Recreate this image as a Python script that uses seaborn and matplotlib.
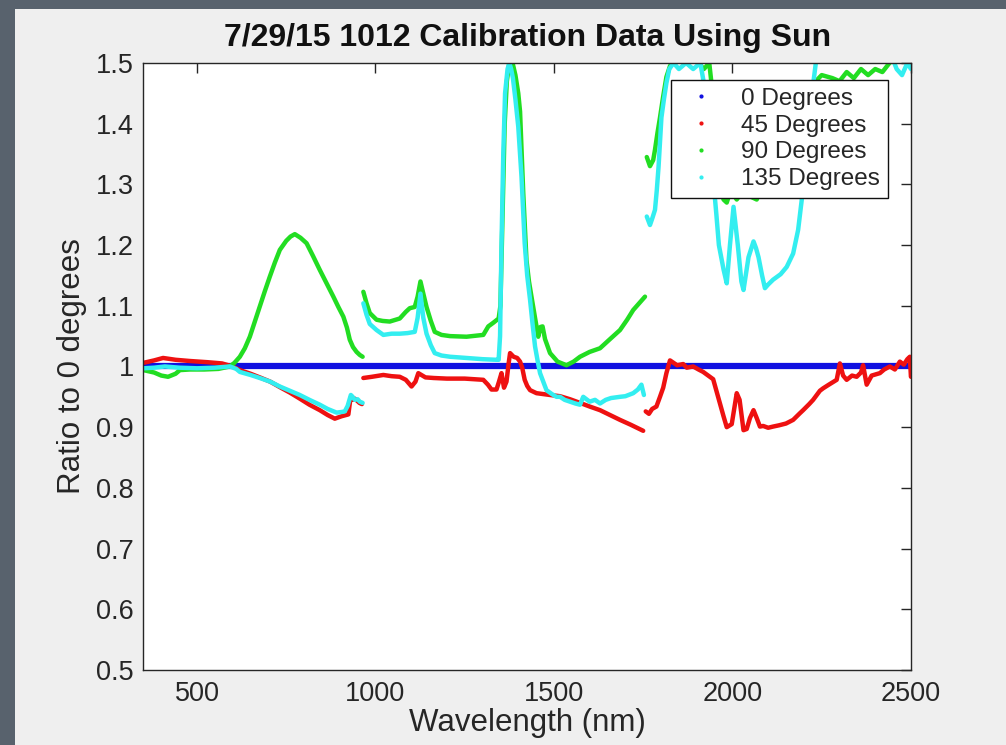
import matplotlib

matplotlib.use("Agg")
import matplotlib.pyplot as plt
import numpy as np
import pandas as pd
import seaborn as sns
from matplotlib.lines import Line2D
from matplotlib.patches import Rectangle

nan = np.nan

# 0 degrees is the reference, ratio 1 everywhere
WL_0 = [350, 960, 965, 1750, 1760, 2500]
R_0 = [1.0, 1.0, 1.0, 1.0, 1.0, 1.0]

# 45 degrees (three detector segments separated by nan)
WL_45 = [
    350, 380, 405, 440, 480, 530, 570, 600, 620, 650, 676, 705, 732, 760, 788, 815,
    844, 866, 886, 905, 924, 930, 936, 942, 955, 962, nan,
    966, 990, 1022, 1045, 1068, 1085, 1101, 1112, 1120, 1140, 1163, 1200, 1250, 1302,
    1315, 1325, 1339, 1346, 1353, 1360, 1367, 1373, 1377, 1387, 1397, 1405, 1411, 1418,
    1425, 1433, 1451, 1489, 1517, 1545, 1573, 1600, 1629, 1657, 1685, 1715, 1750, nan,
    1757, 1766, 1775, 1787, 1797, 1806, 1815, 1825, 1835, 1845, 1862, 1872, 1890, 1905,
    1918, 1932, 1946, 1955, 1965, 1975, 1984, 1998, 2012, 2020, 2031, 2040, 2049, 2059,
    2068, 2077, 2086, 2100, 2114, 2130, 2150, 2170, 2189, 2198, 2215, 2226, 2245, 2254,
    2270, 2292, 2301, 2310, 2320, 2335, 2348, 2360, 2366, 2376, 2390, 2413, 2425, 2441,
    2455, 2469, 2480, 2490, 2497, 2500,
]
R_45 = [
    1.006, 1.010, 1.014, 1.011, 1.009, 1.007, 1.005, 1.000, 0.994, 0.988, 0.982, 0.975,
    0.966, 0.957, 0.947, 0.937, 0.928, 0.920, 0.914, 0.918, 0.921, 0.948, 0.945, 0.947,
    0.940, 0.938, nan,
    0.981, 0.983, 0.986, 0.984, 0.983, 0.978, 0.967, 0.975, 0.989, 0.982, 0.981, 0.980,
    0.980, 0.978, 0.970, 0.962, 0.962, 0.975, 0.989, 0.965, 0.975, 1.005, 1.022, 1.016,
    1.014, 1.008, 0.998, 0.978, 0.968, 0.961, 0.956, 0.953, 0.951, 0.946, 0.940, 0.934,
    0.928, 0.920, 0.912, 0.904, 0.894, nan,
    0.926, 0.922, 0.930, 0.934, 0.950, 0.965, 0.989, 1.010, 1.006, 1.002, 1.004, 0.998,
    1.000, 0.995, 0.991, 0.985, 0.979, 0.960, 0.939, 0.918, 0.900, 0.905, 0.956, 0.945,
    0.895, 0.897, 0.915, 0.928, 0.915, 0.901, 0.902, 0.899, 0.901, 0.903, 0.906, 0.912,
    0.923, 0.928, 0.938, 0.945, 0.960, 0.964, 0.970, 0.978, 1.005, 0.985, 0.978, 0.985,
    0.983, 0.990, 1.002, 0.970, 0.985, 0.989, 0.995, 1.000, 0.995, 1.008, 1.003, 1.012,
    1.016, 0.983,
]

# 90 degrees
WL_90 = [
    350, 380, 400, 419, 440, 452, 480, 520, 560, 592, 605, 620, 634, 648, 662, 676, 690,
    704, 718, 732, 750, 762, 774, 790, 807, 825, 844, 863, 882, 896, 910, 920, 928, 937,
    947, 956, 964, nan,
    966, 975, 984, 1003, 1020, 1040, 1068, 1085, 1096, 1110, 1118, 1126, 1134, 1143,
    1155, 1166, 1185, 1209, 1255, 1302, 1316, 1330, 1345, 1350, 1356, 1362, 1368, 1375,
    1384, 1392, 1400, 1405, 1414, 1423, 1430, 1437, 1447, 1456, 1462, 1468, 1475, 1489,
    1510, 1535, 1555, 1573, 1600, 1629, 1655, 1685, 1705, 1722, 1740, 1755, nan,
    1760, 1769, 1778, 1783, 1790, 1797, 1806, 1815, 1825, 1834, 1850, 1870, 1890, 1905,
    1920, 1935, 1950, 1965, 1975, 1984, 1995, 2012, 2030, 2050, 2068, 2085, 2100, 2150,
    2200, 2250, 2280, 2300, 2320, 2340, 2360, 2380, 2400, 2420, 2440, 2460, 2480, 2500,
]
R_90 = [
    0.994, 0.990, 0.985, 0.983, 0.988, 0.994, 0.995, 0.995, 0.996, 1.000, 1.006, 1.016,
    1.030, 1.049, 1.074, 1.099, 1.124, 1.148, 1.171, 1.192, 1.207, 1.214, 1.218, 1.212,
    1.203, 1.182, 1.159, 1.137, 1.115, 1.098, 1.082, 1.064, 1.044, 1.032, 1.024, 1.019,
    1.016, nan,
    1.123, 1.104, 1.088, 1.077, 1.075, 1.074, 1.079, 1.090, 1.096, 1.098, 1.115, 1.140,
    1.120, 1.098, 1.075, 1.057, 1.052, 1.050, 1.049, 1.052, 1.066, 1.072, 1.079, 1.100,
    1.250, 1.400, 1.470, 1.500, 1.500, 1.480, 1.450, 1.420, 1.285, 1.175, 1.140, 1.115,
    1.080, 1.049, 1.065, 1.066, 1.045, 1.022, 1.008, 1.002, 1.008, 1.016, 1.024, 1.030,
    1.044, 1.060, 1.077, 1.093, 1.105, 1.115, nan,
    1.345, 1.330, 1.340, 1.357, 1.385, 1.410, 1.445, 1.477, 1.495, 1.502, 1.510, 1.520,
    1.510, 1.500, 1.490, 1.500, 1.420, 1.300, 1.275, 1.270, 1.290, 1.275, 1.290, 1.280,
    1.275, 1.300, 1.330, 1.400, 1.450, 1.480, 1.475, 1.470, 1.485, 1.475, 1.490, 1.480,
    1.490, 1.485, 1.500, 1.510, 1.520, 1.520,
]

# 135 degrees
WL_135 = [
    350, 380, 410, 450, 500, 550, 592, 610, 620, 650, 676, 705, 732, 760, 788, 815, 844,
    866, 891, 905, 914, 922, 931, 936, 942, 950, 956, 964, nan,
    966, 975, 984, 1003, 1022, 1045, 1068, 1090, 1110, 1118, 1126, 1134, 1143, 1155,
    1166, 1185, 1209, 1255, 1300, 1339, 1345, 1349, 1353, 1358, 1363, 1370, 1375, 1380,
    1385, 1392, 1400, 1409, 1418, 1425, 1433, 1440, 1447, 1454, 1461, 1470, 1479, 1493,
    1507, 1517, 1530, 1545, 1560, 1573, 1582, 1600, 1615, 1629, 1645, 1660, 1685, 1700,
    1722, 1735, 1745, 1752, nan,
    1760, 1769, 1776, 1783, 1788, 1793, 1801, 1808, 1815, 1823, 1835, 1850, 1870, 1890,
    1910, 1925, 1940, 1955, 1962, 1975, 1984, 1993, 2003, 2015, 2025, 2031, 2045, 2059,
    2066, 2073, 2083, 2091, 2100, 2114, 2135, 2152, 2170, 2184, 2194, 2205, 2225, 2240,
    2400, 2440, 2460, 2475, 2490, 2500,
]
R_135 = [
    0.997, 0.998, 1.000, 0.998, 0.997, 0.998, 1.000, 0.996, 0.991, 0.986, 0.981, 0.975,
    0.967, 0.960, 0.953, 0.945, 0.937, 0.930, 0.924, 0.925, 0.926, 0.935, 0.953, 0.950,
    0.945, 0.946, 0.942, 0.940, nan,
    1.104, 1.085, 1.070, 1.060, 1.052, 1.054, 1.054, 1.055, 1.057, 1.080, 1.120, 1.080,
    1.054, 1.035, 1.022, 1.018, 1.016, 1.014, 1.012, 1.011, 1.011, 1.050, 1.200, 1.350,
    1.450, 1.490, 1.500, 1.490, 1.475, 1.440, 1.395, 1.313, 1.203, 1.150, 1.110, 1.070,
    1.033, 1.010, 0.989, 0.975, 0.961, 0.955, 0.950, 0.950, 0.945, 0.942, 0.939, 0.937,
    0.950, 0.942, 0.945, 0.939, 0.945, 0.948, 0.950, 0.951, 0.956, 0.962, 0.970, 0.953,
    nan,
    1.247, 1.233, 1.245, 1.258, 1.290, 1.329, 1.410, 1.440, 1.467, 1.490, 1.500, 1.490,
    1.500, 1.490, 1.500, 1.450, 1.350, 1.250, 1.200, 1.160, 1.137, 1.200, 1.263, 1.200,
    1.140, 1.126, 1.180, 1.206, 1.195, 1.180, 1.150, 1.129, 1.135, 1.143, 1.152, 1.164,
    1.186, 1.225, 1.274, 1.350, 1.460, 1.530, 1.530, 1.520, 1.490, 1.480, 1.500, 1.490,
]

SERIES = ["0 Degrees", "45 Degrees", "90 Degrees", "135 Degrees"]
COLORS = ["#1010e0", "#ee1111", "#22dd22", "#33eef0"]
X_TICKS = [500, 1000, 1500, 2000, 2500]
Y_TICKS = [0.5, 0.6, 0.7, 0.8, 0.9, 1.0, 1.1, 1.2, 1.3, 1.4, 1.5]
Y_TICK_LABELS = ["0.5", "0.6", "0.7", "0.8", "0.9", "1", "1.1", "1.2", "1.3", "1.4", "1.5"]


def build_frame(name, wl, ratio):
    df = pd.DataFrame({"wavelength": wl, "ratio": ratio})
    df["segment"] = df["ratio"].isna().cumsum()
    df = df.dropna()
    df["series"] = name
    return df


def main():
    sns.set_theme(style="white")
    plt.rcParams["font.family"] = ["Liberation Sans", "DejaVu Sans"]

    fig = plt.figure(figsize=(10.06, 7.45), dpi=100, facecolor="#58626d")
    fig.patches.append(
        Rectangle((15 / 1006, 0), 1, 1 - 9 / 745, transform=fig.transFigure,
                  facecolor="#efefef", edgecolor="none", zorder=-10)
    )
    ax = fig.add_axes([0.1426, 0.1007, 0.7629, 0.8148])
    ax.set_facecolor("white")

    data = [(WL_0, R_0), (WL_45, R_45), (WL_90, R_90), (WL_135, R_135)]
    widths = [4.5, 3.2, 3.2, 3.2]
    for (wl, ratio), name, color, lw in zip(data, SERIES, COLORS, widths):
        df = build_frame(name, wl, ratio)
        sns.lineplot(
            data=df, x="wavelength", y="ratio", units="segment", estimator=None,
            sort=False, color=color, linewidth=lw, ax=ax, legend=False,
        )

    ax.set_xlim(350, 2500)
    ax.set_ylim(0.5, 1.5)
    ax.set_xticks(X_TICKS)
    ax.set_xticklabels([str(t) for t in X_TICKS], fontsize=19.5, color="#262626")
    ax.set_yticks(Y_TICKS)
    ax.set_yticklabels(Y_TICK_LABELS, fontsize=19.5, color="#262626")
    ax.tick_params(axis="both", direction="in", length=7, width=1, color="#262626",
                   top=True, right=True)
    ax.tick_params(axis="x", pad=8)
    ax.tick_params(axis="y", pad=7)
    for spine in ax.spines.values():
        spine.set_color("#262626")
        spine.set_linewidth(1.0)

    ax.set_title("7/29/15 1012 Calibration Data Using Sun", fontsize=23,
                 fontweight="bold", color="#111111", pad=12)
    ax.set_xlabel("Wavelength (nm)", fontsize=22.5, color="#262626", labelpad=1)
    ax.set_ylabel("Ratio to 0 degrees", fontsize=22.5, color="#262626", labelpad=6)

    handles = [
        Line2D([], [], marker=".", linestyle="none", color=c, markersize=4)
        for c in COLORS
    ]
    leg = ax.legend(
        handles, SERIES, loc="upper right", bbox_to_anchor=(0.970, 0.972),
        borderaxespad=0, fontsize=17.5, frameon=True, fancybox=False,
        handlelength=1.8, handletextpad=0.75, borderpad=0.32, labelspacing=0.2,
    )
    leg.get_frame().set_edgecolor("#111111")
    leg.get_frame().set_linewidth(1.0)
    leg.get_frame().set_facecolor("white")
    leg.get_frame().set_alpha(1)

    fig.savefig("out.png", dpi=100, facecolor=fig.get_facecolor())
    plt.close(fig)


if __name__ == "__main__":
    main()
